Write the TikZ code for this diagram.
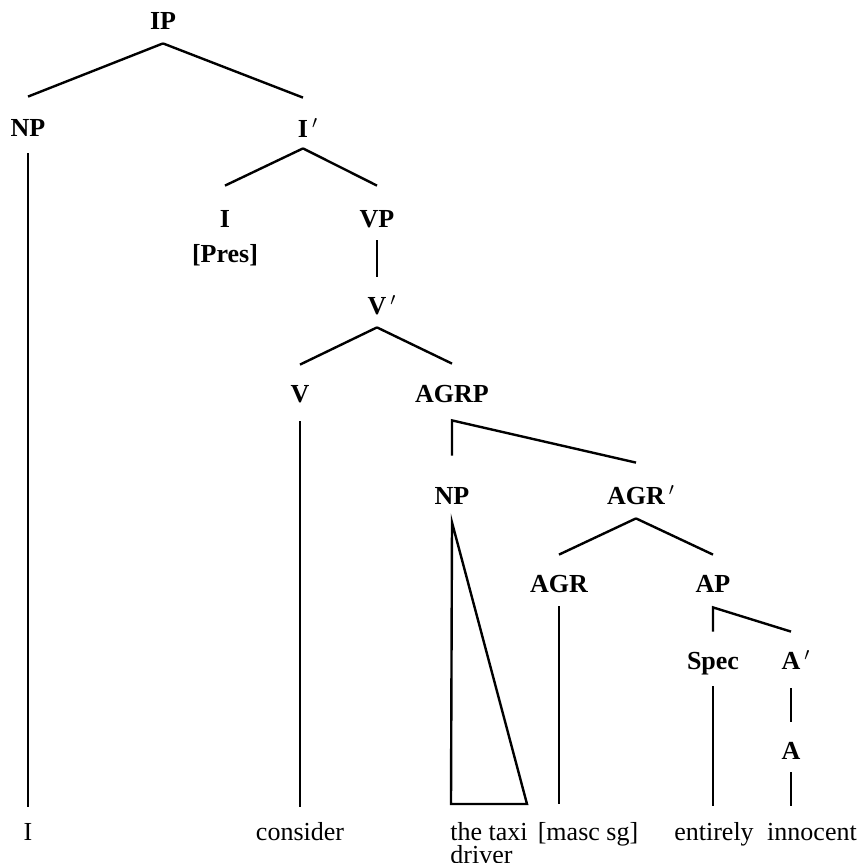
\documentclass[tikz,border=0pt]{standalone}
\usepackage{fontspec}
\setmainfont{Liberation Serif}
\usetikzlibrary{positioning, calc}

\begin{document}
\begin{tikzpicture}[x=0.5pt, y=-0.5pt,
  cat/.style={font=\fontsize{13}{15}\selectfont\bfseries, inner sep=0pt, text height=9pt, text depth=0pt},
  leaf/.style={font=\fontsize{13}{15}\selectfont, inner sep=0pt, text height=9pt, text depth=0pt},
  branch/.style={line width=1.2pt},
]
\useasboundingbox (0,0) rectangle (863,863);

% Category labels
\node[cat] (ip) at (163,20) {IP};
\node[cat] (np1) at (28,127) {NP};
\node[cat] (ibar) at (303,128) {I\rlap{$\,'$}};
\node[cat] (infl) at (225,218) {I};
\node[cat, below=8.5pt of infl] (pres) {[Pres]};
\node[cat] (vp) at (377,218) {VP};
\node[cat] (vbar) at (377,305) {V\rlap{$\,'$}};
\node[cat] (v) at (300,393) {V};
\node[cat] (agrp) at (452,393) {AGRP};
\node[cat] (np2) at (452,495) {NP};
\node[cat] (agrbar) at (636,495) {AGR\rlap{$\,'$}};
\node[cat] (agr) at (559,583) {AGR};
\node[cat] (ap) at (713,583) {AP};
\node[cat] (spec) at (713,660) {Spec};
\node[cat] (abar) at (791,660) {A\rlap{$\,'$}};
\node[cat] (a) at (791,750) {A};

% Words
\node[leaf] (w-i) at (28,831) {I};
\node[leaf] (w-consider) at (300,831) {consider};
\node[font=\fontsize{13}{11.5}\selectfont, inner sep=0pt, align=left, anchor=north west]
     (w-taxi) at (450,822) {the taxi\\driver};
\node[leaf] (w-masc) at (588,831) {[masc sg]};
\node[leaf] (w-entirely) at (714,831) {entirely};
\node[leaf] (w-innocent) at (812,831) {innocent};

% Branches
\draw[branch] ([yshift=-7pt]ip.south) -- ([yshift=10.5pt]np1.north);
\draw[branch] ([yshift=-7pt]ip.south) -- ([yshift=10.5pt]ibar.north);
\draw[branch] ([yshift=-5.5pt]ibar.south) -- ([yshift=11.5pt]infl.north);
\draw[branch] ([yshift=-5.5pt]ibar.south) -- ([yshift=11.5pt]vp.north);
\draw[branch] ([yshift=-6.5pt]vp.south) -- ([yshift=9.5pt]vbar.north);
\draw[branch] ([yshift=-6.5pt]vbar.south) -- ([yshift=9.5pt]v.north);
\draw[branch] ([yshift=-6.5pt]vbar.south) -- ([yshift=10pt]agrp.north);
\draw[branch] ([yshift=15pt]np2.north) -- ([yshift=-9pt]agrp.south) -- ([yshift=11.5pt]agrbar.north);
\draw[branch] ([yshift=-7pt]agrbar.south) -- ([yshift=9.5pt]agr.north);
\draw[branch] ([yshift=-7pt]agrbar.south) -- ([yshift=9.5pt]ap.north);
\draw[branch] ([yshift=9.5pt]spec.north) -- ([yshift=-7.5pt]ap.south) -- ([yshift=9.5pt]abar.north);
\draw[branch] ([yshift=-9.5pt]abar.south) -- ([yshift=9.5pt]a.north);

% Lines down to the words
\draw[branch] ([yshift=-8.5pt]np1.south) -- ($(np1.south |- w-i.north)+(0,7.5pt)$);
\draw[branch] ([yshift=-9.5pt]v.south) -- ($(v.south |- w-consider.north)+(0,7.5pt)$);
\draw[branch] ([yshift=-7pt]agr.south) -- ($(agr.south |- w-masc.north)+(0,9pt)$);
\draw[branch] ([yshift=-8.5pt]spec.south) -- ($(spec.south |- w-entirely.north)+(0,8pt)$);
\draw[branch] ([yshift=-6.5pt]a.south) -- ($(a.south |- w-innocent.north)+(0,8pt)$);

% Triangle over the taxi driver
\coordinate (tri-l) at (451,804);
\coordinate (tri-r) at (527,804);
\draw[branch] ([yshift=-9pt]np2.south) -- (tri-l) -- (tri-r) -- cycle;
\end{tikzpicture}
\end{document}
